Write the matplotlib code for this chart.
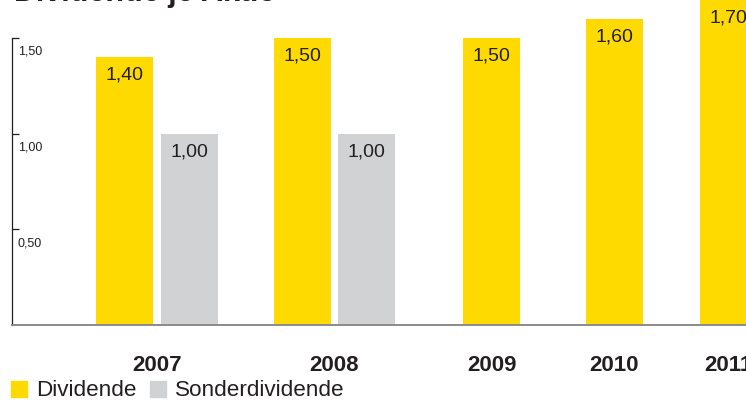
import matplotlib
matplotlib.use('Agg')
import matplotlib.pyplot as plt
from matplotlib.patches import Patch

plt.rcParams['font.family'] = ['Liberation Sans', 'DejaVu Sans']

# data
years = ['2007', '2008', '2009', '2010', '2011']
dividende = [1.40, 1.50, 1.50, 1.60, 1.70]
sonder_years = ['2007', '2008']
sonderdividende = [1.00, 1.00]
y_ticks = [0.5, 1.0, 1.5]
y_tick_labels = ['0,50', '1,00', '1,50']

# layout (x positions in pixel-like units, the chart runs past the right edge)
div_pos = [124.5, 302.5, 491.5, 614.5, 728.5]
sonder_pos = [189.5, 366.5]
year_pos = [157, 334, 491.5, 614.5, 728.5]
bar_w = 57

yellow = '#FFDA00'
grey = '#D1D2D4'
txt = '#231F20'

fig = plt.figure(figsize=(7.46, 4.03), dpi=100)
ax = fig.add_axes([12 / 746, 78 / 403, 734 / 746, 325 / 403])

ax.bar(div_pos, dividende, width=bar_w, color=yellow, zorder=2)
ax.bar(sonder_pos, sonderdividende, width=bar_w, color=grey, zorder=2)

def fmt(v):
    return ('%.2f' % v).replace('.', ',')

for x, v in zip(div_pos, dividende):
    ax.annotate(fmt(v), xy=(x, v), xytext=(0, -13.2), textcoords='offset points',
                ha='center', va='center', fontsize=14, color=txt, annotation_clip=False)
for x, v in zip(sonder_pos, sonderdividende):
    ax.annotate(fmt(v), xy=(x, v), xytext=(0, -13.2), textcoords='offset points',
                ha='center', va='center', fontsize=14, color=txt)

ax.set_xlim(12, 746)
ax.set_ylim(0, 325 / 191.5)

for s in ['top', 'right']:
    ax.spines[s].set_visible(False)
ax.spines['left'].set_bounds(0, 1.5)
ax.spines['left'].set_color(txt)
ax.spines['left'].set_linewidth(0.9)
ax.spines['bottom'].set_color('#8a8a8a')
ax.spines['bottom'].set_linewidth(1.4)
ax.spines['bottom'].set_zorder(3)

ax.set_yticks(y_ticks)
ax.tick_params(axis='y', direction='in', length=5, width=0.9, color=txt, labelleft=False)
for v, lab in zip(y_ticks, y_tick_labels):
    ax.annotate(lab, xy=(0, v), xycoords=('axes fraction', 'data'), xytext=(4.3, -10.2),
                textcoords='offset points', ha='left', va='center', fontsize=9, color=txt)

ax.set_xticks(year_pos)
ax.set_xticklabels(years, fontsize=16, fontweight='bold', color=txt)
ax.tick_params(axis='x', length=0, pad=21.5)

fig.text(14 / 746, 1 - 1.5 / 403, 'Dividende je Aktie', fontsize=22, fontweight='bold',
         color=txt, ha='left', va='baseline')

handles = [Patch(color=yellow), Patch(color=grey)]
fig.legend(handles, ['Dividende', 'Sonderdividende'], loc='center left',
           bbox_to_anchor=(11 / 746, 1 - 391 / 403), ncol=2, frameon=False,
           fontsize=16.2, handlelength=0.72, handleheight=0.72, handletextpad=0.4,
           columnspacing=0.6, borderpad=0, borderaxespad=0, labelcolor=txt)

fig.savefig('out.png', dpi=100)
